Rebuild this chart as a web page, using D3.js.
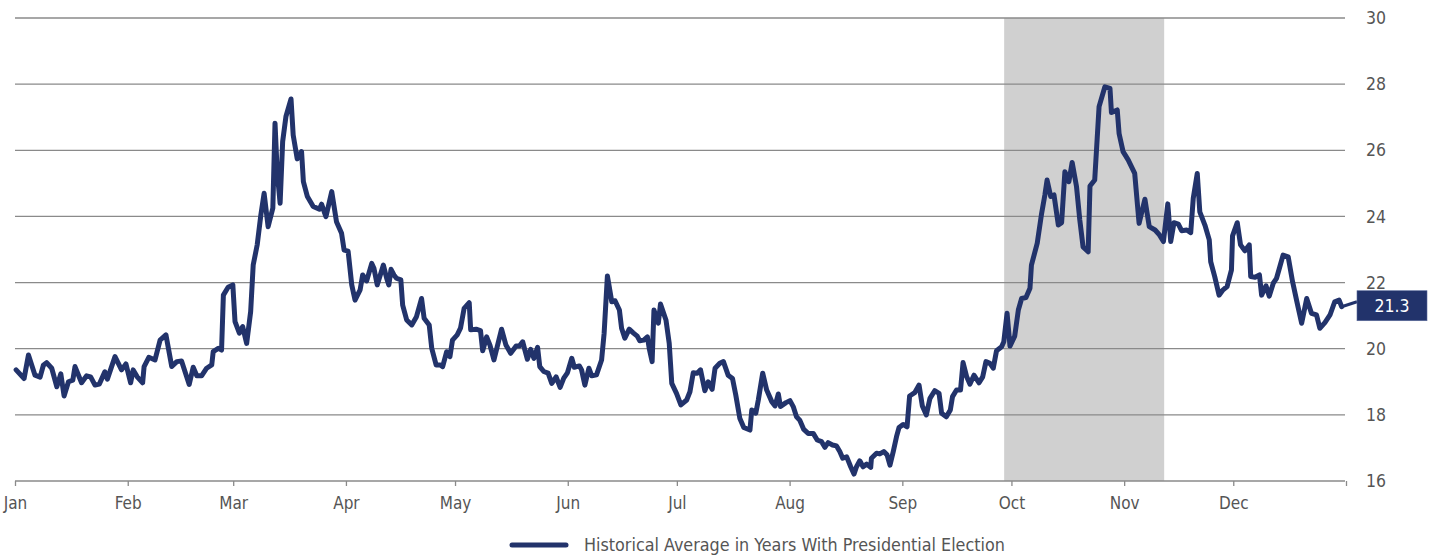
<!DOCTYPE html>
<html>
<head>
<meta charset="utf-8">
<script src="https://cdn.jsdelivr.net/npm/d3@7"></script>
<style>
  html, body { margin: 0; padding: 0; background: #fff; }
  svg text { font-family: "Liberation Sans Narrow", "DejaVu Sans Condensed", "Roboto Condensed", sans-serif; font-stretch: condensed; }
</style>
</head>
<body>
<svg id="chart" width="1435" height="556"></svg>
<script>
// ---- data (day offset from Jan 1, 2024; value) ----
const days = [0.3,2.5,3.7,5.5,6.9,7.8,8.7,10.1,11.5,12.6,13.5,14.7,15.9,16.5,18.3,19.7,20.8,22.0,23.2,24.7,25.4,27.5,29.3,30.5,31.8,32.5,33.6,35.1,35.5,36.8,38.5,39.9,41.5,43.1,44.5,45.8,47.9,49.0,50.0,51.3,52.7,54.1,54.5,55.9,56.8,57.3,58.6,59.9,60.5,61.7,62.6,63.7,64.8,65.5,66.6,67.6,68.5,69.6,70.9,71.5,72.1,72.9,73.6,74.5,75.9,76.5,77.6,78.8,79.3,80.4,82.0,83.7,84.3,85.5,87.1,88.4,89.8,90.5,91.6,92.6,93.5,94.9,95.6,96.7,98.1,98.7,99.6,101.3,102.2,102.8,103.4,104.2,104.9,106.1,106.6,107.7,109.1,110.4,111.8,112.5,113.9,114.6,115.8,116.9,117.6,118.7,119.6,120.3,121.6,122.5,123.5,124.9,125.3,126.8,128.0,128.6,129.7,130.6,131.7,133.8,135.0,136.3,137.8,138.7,139.6,140.9,141.8,142.7,143.7,144.3,145.4,146.6,147.6,148.8,149.9,150.9,151.9,153.1,153.8,155.2,155.8,156.7,157.8,158.6,159.9,161.3,162.0,162.9,164.1,165.0,166.2,166.8,167.7,168.9,170.0,171.1,171.8,172.9,173.9,174.4,175.2,175.7,176.9,177.5,179.0,179.9,180.6,181.9,183.1,184.7,185.6,186.5,187.6,188.5,189.7,190.6,191.7,192.5,193.8,194.8,196.1,197.3,198.2,199.3,200.4,202.1,202.6,203.7,204.4,205.6,206.7,208.1,209.0,209.9,210.5,212.0,213.1,214.0,214.9,215.8,216.9,218.1,219.5,220.6,221.8,222.7,223.6,224.8,225.9,226.8,227.6,228.7,229.8,230.7,231.4,232.3,233.2,234.2,235.3,235.5,236.9,237.8,238.9,239.8,240.6,241.5,242.4,243.1,244.2,245.3,246.0,247.4,248.6,249.5,250.6,251.6,252.9,254.1,254.8,256.1,257.2,257.8,258.9,260.0,260.7,261.7,262.6,263.7,265.1,266.1,267.0,268.1,269.0,269.9,271.3,271.9,272.8,273.6,274.9,275.9,276.8,278.0,279.1,279.5,281.1,282.3,283.2,283.8,284.8,285.7,286.9,287.8,288.7,289.8,290.7,291.9,292.8,293.7,295.1,295.6,296.9,298.1,299.7,301.1,301.5,303.1,303.6,304.7,306.1,307.9,309.1,310.7,311.9,313.5,314.7,315.8,317.0,317.8,318.7,319.9,320.8,322.2,323.3,324.0,325.1,325.8,327.2,328.4,328.8,329.9,331.1,332.2,333.3,334.5,334.8,336.1,337.0,338.2,339.4,339.8,341.0,342.2,342.8,344.0,344.9,346.0,346.9,347.8,348.7,350.1,351.3,352.4,353.8,355.2,356.5,357.9,358.8,360.2,361.6,362.9,364.1,364.8];
const values = [19.36,19.10,19.81,19.20,19.14,19.50,19.58,19.41,18.85,19.24,18.57,19.00,19.05,19.46,18.97,19.18,19.15,18.90,18.93,19.30,19.08,19.76,19.36,19.54,18.97,19.36,19.15,18.97,19.46,19.74,19.66,20.26,20.42,19.46,19.61,19.63,18.92,19.44,19.18,19.18,19.41,19.51,19.91,20.01,19.96,21.62,21.86,21.93,20.82,20.47,20.67,20.16,21.12,22.53,23.14,24.04,24.70,23.69,24.25,26.82,25.35,24.40,26.26,27.02,27.55,26.46,25.74,25.96,25.05,24.60,24.30,24.22,24.37,23.99,24.75,23.84,23.49,22.98,22.95,21.93,21.47,21.78,22.23,22.05,22.58,22.43,21.93,22.53,22.13,21.93,22.40,22.23,22.13,22.08,21.32,20.87,20.72,20.97,21.52,20.92,20.72,20.01,19.51,19.51,19.46,19.91,19.76,20.26,20.42,20.62,21.22,21.39,20.57,20.59,20.55,19.94,20.36,20.11,19.66,20.59,20.11,19.86,20.08,20.08,20.21,19.68,19.98,19.71,20.04,19.46,19.31,19.26,18.95,19.15,18.83,19.11,19.27,19.71,19.44,19.48,19.36,18.90,19.41,19.18,19.21,19.66,20.47,22.20,21.42,21.45,21.17,20.62,20.32,20.59,20.48,20.38,20.24,20.26,20.36,20.01,19.61,21.17,20.77,21.35,20.87,20.16,18.95,18.65,18.30,18.45,18.70,19.27,19.26,19.36,18.73,19.00,18.77,19.41,19.56,19.61,19.20,19.10,18.60,17.90,17.62,17.54,18.15,18.05,18.45,19.26,18.75,18.40,18.27,18.63,18.25,18.37,18.43,18.25,17.94,17.84,17.56,17.44,17.44,17.24,17.19,17.02,17.16,17.09,17.06,16.89,16.69,16.73,16.43,16.21,16.43,16.61,16.43,16.51,16.41,16.69,16.84,16.82,16.89,16.79,16.48,16.89,17.34,17.62,17.71,17.64,18.57,18.67,18.90,18.27,18.00,18.50,18.73,18.65,18.05,17.94,18.15,18.55,18.75,18.75,19.58,19.15,18.93,19.20,18.97,19.15,19.61,19.56,19.41,19.94,20.06,20.21,21.07,20.08,20.38,21.17,21.52,21.55,21.83,22.53,23.19,24.09,24.65,25.10,24.60,24.65,23.74,23.81,25.35,25.05,25.63,24.90,23.89,23.08,22.93,24.92,25.10,27.32,27.92,27.87,27.14,27.22,26.51,25.96,25.71,25.30,23.79,24.52,23.69,23.59,23.44,23.24,24.38,23.24,23.81,23.77,23.57,23.59,23.51,24.55,25.30,24.14,23.74,23.29,22.63,22.18,21.62,21.78,21.88,22.38,23.41,23.81,23.14,22.96,23.14,22.18,22.16,22.23,21.62,21.90,21.59,21.98,22.13,22.48,22.83,22.78,22.03,21.47,20.77,21.52,21.07,21.02,20.62,20.79,21.02,21.42,21.47,21.27];
const monthLabels = ["Jan","Feb","Mar","Apr","May","Jun","Jul","Aug","Sep","Oct","Nov","Dec"];
const yTicks = [16,18,20,22,24,26,28,30];
const shadeStart = "2024-09-29";
const shadeEnd = "2024-11-12";
const lastValueLabel = "21.3";
const legendLabel = "Historical Average in Years With Presidential Election";

// ---- setup ----
const navy = "#22336b";
const svg = d3.select("#chart");
const start = new Date(2024, 0, 1);
const toDate = d => new Date(start.getTime() + d * 864e5);
const parse = d3.timeParse("%Y-%m-%d");

const x = d3.scaleTime().domain([start, new Date(2025, 0, 1)]).range([15, 1346]);
const y = d3.scaleLinear().domain([16, 30]).range([481, 18]);

// shading
svg.append("rect")
  .attr("x", x(parse(shadeStart)))
  .attr("y", y(30))
  .attr("width", x(parse(shadeEnd)) - x(parse(shadeStart)))
  .attr("height", y(16) - y(30))
  .attr("fill", "#d0d0d0");

// gridlines
svg.append("g").selectAll("line").data(yTicks).join("line")
  .attr("x1", x.range()[0]).attr("x2", x.range()[1] - 1)
  .attr("y1", d => y(d)).attr("y2", d => y(d))
  .attr("stroke", "#8a8a8a")
  .attr("stroke-width", 1.3);

// right labels
svg.append("g").selectAll("text").data(yTicks).join("text")
  .attr("x", 1366).attr("y", d => y(d)).attr("dy", "0.35em")
  .attr("font-size", 17.5).attr("fill", "#555")
  .text(d => d);

// x axis
const xAxis = d3.axisBottom(x)
  .ticks(d3.timeMonth.every(1))
  .tickSize(5).tickSizeOuter(0)
  .tickFormat((d) => d.getFullYear() === 2024 ? monthLabels[d.getMonth()] : "");
const gx = svg.append("g").attr("transform", `translate(0,${y(16)})`).call(xAxis);
gx.select(".domain").remove();
gx.selectAll(".tick line").attr("stroke", "#8a8a8a").attr("stroke-width", 1.3);
gx.selectAll(".tick text").attr("font-size", 17).attr("fill", "#555").attr("dy", "1.2em")
  .style("font-family", "\"Liberation Sans Narrow\", \"DejaVu Sans Condensed\", sans-serif");

// line
const series = days.map((d, i) => ({ date: toDate(d), value: values[i] }));
const line = d3.line().x(d => x(d.date)).y(d => y(d.value));
svg.append("path").datum(series)
  .attr("d", line)
  .attr("fill", "none")
  .attr("stroke", navy)
  .attr("stroke-width", 5)
  .attr("stroke-linejoin", "round")
  .attr("stroke-linecap", "round");

// callout
const last = series[series.length - 1];
const boxX = 1357, boxW = 70, boxH = 30;
const boxY = y(+lastValueLabel) - boxH / 2;
svg.append("line")
  .attr("x1", x(last.date)).attr("y1", y(last.value))
  .attr("x2", boxX).attr("y2", y(last.value) - 5)
  .attr("stroke", navy).attr("stroke-width", 3);
svg.append("rect")
  .attr("x", boxX).attr("y", boxY).attr("width", boxW).attr("height", boxH)
  .attr("fill", navy).attr("stroke", "#5a6a9a").attr("stroke-width", 0.6);
svg.append("text")
  .attr("x", boxX + boxW / 2).attr("y", boxY + boxH / 2).attr("dy", "0.35em")
  .attr("text-anchor", "middle").attr("font-size", 17.5).attr("fill", "#fff")
  .text(lastValueLabel);

// legend
const lg = svg.append("g");
lg.append("line").attr("x1", 512).attr("x2", 566).attr("y1", 545).attr("y2", 545)
  .attr("stroke", navy).attr("stroke-width", 5).attr("stroke-linecap", "round");
lg.append("text").attr("x", 584).attr("y", 545).attr("dy", "0.35em")
  .attr("font-size", 17.8).attr("fill", "#555").text(legendLabel);
</script>
</body>
</html>
